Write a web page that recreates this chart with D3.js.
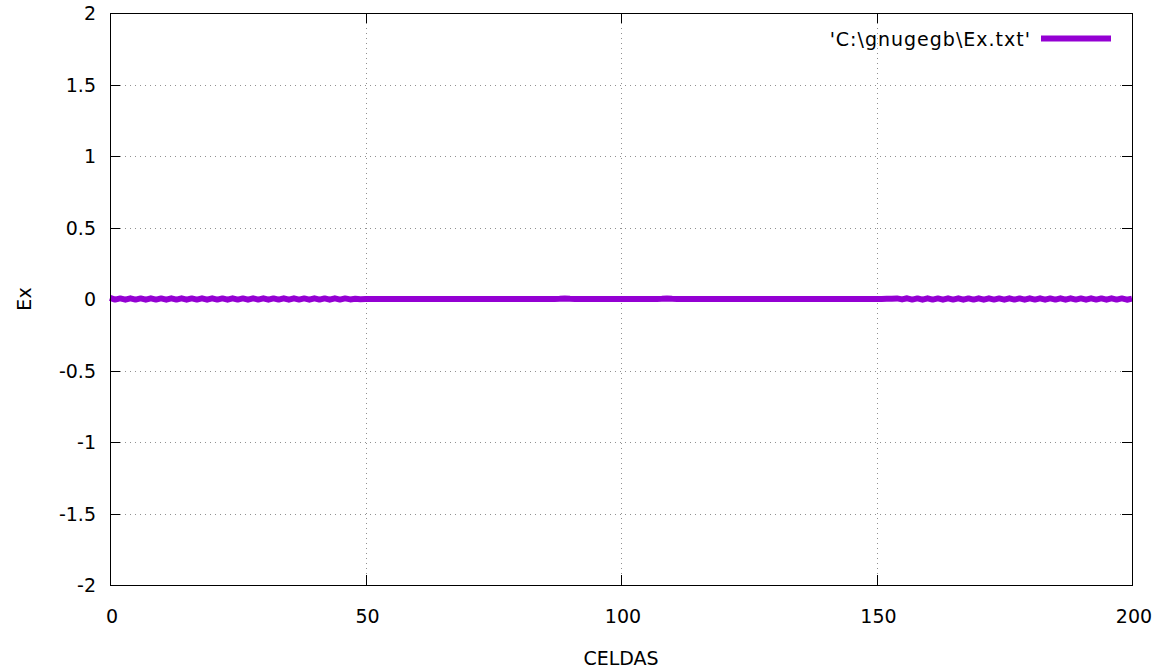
<!DOCTYPE html>
<html>
<head>
<meta charset="utf-8">
<script src="https://cdn.jsdelivr.net/npm/d3@7"></script>
<style>
  html, body { margin: 0; padding: 0; background: #fff; }
  svg { display: block; }
  text { font-family: Tahoma, "DejaVu Sans", sans-serif; font-size: 19px; fill: #000; }
</style>
</head>
<body>
<svg id="chart" width="1160" height="668"></svg>
<script>
// Ex field sampled at each cell (0..200)
const cells = d3.range(0, 201);
const exValues = [
  0.008, -0.004, 0.004, -0.005, 0.005, -0.004, 0.004, -0.005, 0.005, -0.004,
  0.004, -0.005, 0.005, -0.004, 0.005, -0.005, 0.004, -0.004, 0.005, -0.005,
  0.005, -0.004, 0.004, -0.005, 0.005, -0.004, 0.004, -0.005, 0.005, -0.004,
  0.005, -0.005, 0.004, -0.004, 0.005, -0.005, 0.005, -0.004, 0.004, -0.005,
  0.005, -0.004, 0.004, -0.005, 0.005, -0.004, 0.004, -0.003, 0.002, -0.001,
  0.000, 0.000, 0.000, 0.000, 0.000, 0.000, 0.000, 0.000, 0.000, 0.000,
  0.000, 0.000, 0.000, 0.000, 0.000, 0.000, 0.000, 0.000, 0.000, 0.000,
  0.000, 0.000, 0.000, 0.000, 0.000, 0.000, 0.000, 0.000, 0.000, 0.000,
  0.000, 0.000, 0.000, 0.000, 0.000, 0.000, 0.000, 0.000, 0.001, 0.004,
  0.001, 0.000, 0.000, 0.000, 0.000, 0.000, 0.000, 0.000, 0.000, 0.000,
  0.000, 0.000, 0.000, 0.000, 0.000, 0.000, 0.000, 0.000, 0.001, 0.003,
  0.001, 0.000, 0.000, 0.000, 0.000, 0.000, 0.000, 0.000, 0.000, 0.000,
  0.000, 0.000, 0.000, 0.000, 0.000, 0.000, 0.000, 0.000, 0.000, 0.000,
  0.000, 0.000, 0.000, 0.000, 0.000, 0.000, 0.000, 0.000, 0.000, 0.000,
  0.000, 0.000, 0.000, 0.000, 0.000, 0.000, 0.000, 0.000, 0.000, 0.000,
  0.000, 0.000, 0.001, 0.002, 0.004, -0.003, 0.005, -0.004, 0.004, -0.005,
  0.005, -0.004, 0.004, -0.005, 0.005, -0.004, 0.005, -0.005, 0.004, -0.004,
  0.005, -0.005, 0.005, -0.004, 0.004, -0.005, 0.005, -0.004, 0.004, -0.005,
  0.005, -0.004, 0.005, -0.005, 0.004, -0.004, 0.005, -0.005, 0.005, -0.004,
  0.004, -0.005, 0.005, -0.004, 0.004, -0.005, 0.005, -0.004, 0.004, -0.005,
  0.003
];
const xTicks = [0, 50, 100, 150, 200];
const yTicks = [-2, -1.5, -1, -0.5, 0, 0.5, 1, 1.5, 2];
const seriesName = "'C:\\gnugegb\\Ex.txt'";
const xTitle = "CELDAS";
const yTitle = "Ex";

const svg = d3.select("#chart");
const plotL = 110, plotR = 1132, plotT = 13, plotB = 585;
const tickLen = 10;

const x = d3.scaleLinear().domain([0, 200]).range([plotL, plotR]);
const y = d3.scaleLinear().domain([-2, 2]).range([plotB, plotT]);

// dotted grid
const grid = svg.append("g").attr("stroke", "#909090").attr("stroke-width", 1)
  .attr("stroke-dasharray", "1,4");
grid.selectAll(".gx").data(xTicks.slice(1, -1)).enter().append("line")
  .attr("x1", d => Math.round(x(d)) + 0.5).attr("x2", d => Math.round(x(d)) + 0.5)
  .attr("y1", plotT).attr("y2", plotB);
grid.selectAll(".gy").data(yTicks.slice(1, -1)).enter().append("line")
  .attr("y1", d => Math.round(y(d)) + 0.5).attr("y2", d => Math.round(y(d)) + 0.5)
  .attr("x1", plotL).attr("x2", plotR);

// inward ticks on all four sides
const ticks = svg.append("g").attr("stroke", "#000").attr("stroke-width", 1);
xTicks.forEach(t => {
  const px = Math.round(x(t)) + 0.5;
  ticks.append("line").attr("x1", px).attr("x2", px).attr("y1", plotB).attr("y2", plotB - tickLen);
  ticks.append("line").attr("x1", px).attr("x2", px).attr("y1", plotT).attr("y2", plotT + tickLen);
});
yTicks.forEach(t => {
  const py = Math.round(y(t)) + 0.5;
  ticks.append("line").attr("y1", py).attr("y2", py).attr("x1", plotL).attr("x2", plotL + tickLen);
  ticks.append("line").attr("y1", py).attr("y2", py).attr("x1", plotR).attr("x2", plotR - tickLen);
});

// tick labels
svg.append("g").selectAll("text").data(xTicks).enter().append("text")
  .attr("x", d => x(d) + 2).attr("y", plotB + 38)
  .attr("text-anchor", "middle").text(d => d);
svg.append("g").selectAll("text").data(yTicks).enter().append("text")
  .attr("x", plotL - 14).attr("y", d => y(d) + 7)
  .attr("text-anchor", "end").text(d => d);

// axis titles
svg.append("text").attr("x", (plotL + plotR) / 2).attr("y", 665)
  .attr("text-anchor", "middle").text(xTitle);
svg.append("text").attr("transform", `translate(31, ${y(0)}) rotate(-90)`)
  .attr("text-anchor", "middle").text(yTitle);

// data line
const line = d3.line().x((d, i) => x(cells[i])).y(d => y(d));
svg.append("path").datum(exValues)
  .attr("fill", "none").attr("stroke", "#9400d3").attr("stroke-width", 6)
  .attr("stroke-linejoin", "round")
  .attr("d", line);

// legend
svg.append("text").attr("x", 1031).attr("y", 46).attr("text-anchor", "end")
  .attr("letter-spacing", "1px").text(seriesName);
svg.append("line").attr("x1", 1041).attr("x2", 1111).attr("y1", 38.5).attr("y2", 38.5)
  .attr("stroke", "#9400d3").attr("stroke-width", 6);

// frame
svg.append("rect").attr("x", plotL + 0.5).attr("y", plotT + 0.5)
  .attr("width", plotR - plotL).attr("height", plotB - plotT)
  .attr("fill", "none").attr("stroke", "#000").attr("stroke-width", 1);
</script>
</body>
</html>
